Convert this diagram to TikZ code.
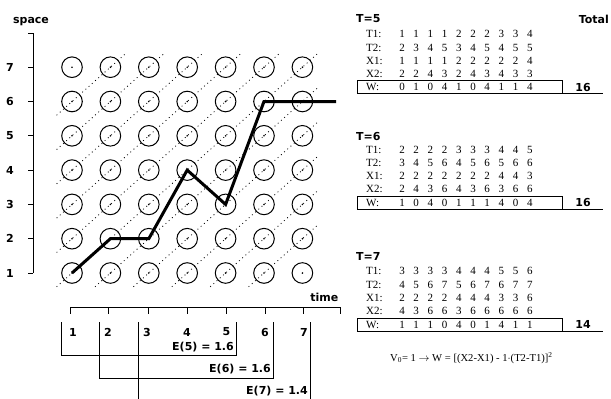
\documentclass[tikz,border=0pt]{standalone}
\usepackage{fontspec}
\setmainfont{Liberation Serif}
\newfontfamily\labfont{DejaVu Sans}
\tikzset{
  lbl/.style={font=\labfont\bfseries\fontsize{11}{11}\selectfont, inner sep=0pt},
  tbl/.style={font=\fontsize{11}{11}\selectfont, inner sep=0pt},
  cellc/.style={draw, circle, minimum size=20.6pt, inner sep=0pt, line width=1pt},
  diag/.style={line width=0.8pt, dash pattern=on 0.9pt off 3.4pt},
  thin/.style={line width=1pt},
}
\newcommand{\colx}[1]{72+38.4*(#1-1)}
\newcommand{\rowy}[1]{273-34.3*(#1-1)}
\begin{document}
\begin{tikzpicture}[x=1pt,y=-1pt]
\useasboundingbox (0,0) rectangle (611,399);
% dotted diagonals
\foreach \k in {-5,...,5}{
  \pgfmathsetmacro\ts{max(1,1-\k)-0.4}
  \pgfmathsetmacro\te{min(7,7-\k)+0.4}
  \draw[diag] ({\colx{\ts}},{\rowy{\ts+\k}}) -- ({\colx{\te}},{\rowy{\te+\k}});
}
% circles
\foreach \i in {1,...,7}{
  \foreach \j in {1,...,7}{
    \node[cellc] (c-\i-\j) at ({\colx{\i}},{\rowy{\j}}) {};
    \fill (c-\i-\j.center) circle (0.9pt);
  }
}
% y axis
\draw[thin] (33,33) -- (33,273);
\draw[thin] (28,33) -- (33,33);
\foreach \j in {1,...,7}{
  \draw[thin] (28,{\rowy{\j}}) -- (33,{\rowy{\j}});
  \node[lbl] (yl\j) at (10,{\rowy{\j}}) {\j};
}
\node[lbl] (spacelbl) at (31,22) {space};
% path
\coordinate (pend) at (336,{\rowy{6}});
\draw[line width=3pt, line join=miter] (c-1-1.center) -- (c-2-2.center) -- (c-3-2.center) -- (c-4-4.center) -- (c-5-3.center) -- (c-6-6.center) -- (c-7-6.center) -- (pend);
% time axis
\draw[thin] (70,307.5) -- (340.5,307.5);
\foreach \x in {70,108.5,148,187.5,226,265,303,340}{
  \draw[thin] (\x,307.5) -- (\x,313.5);
}
\node[lbl, anchor=east] (timelbl) at (338.5,297) {time};
\foreach \n/\x in {1/73,2/108,3/147,4/187,5/226.5,6/265,7/304}{
  \node[lbl] (tl\n) at (\x,332) {\n};
}
% brackets
\draw[thin] (61,322) -- (61,355) -- (236,355) -- (236,322);
\draw[thin] (99,322) -- (99,378) -- (273,378) -- (273,322);
\draw[thin] (138,322) -- (138,399.5);
\draw[thin] (310,322) -- (310,399.5);
\node[lbl, anchor=east] (e5) at (234,347) {E(5) = 1.6};
\node[lbl, anchor=east] (e6) at (271,369.5) {E(6) = 1.6};
\node[lbl, anchor=east] (e7) at (308,391) {E(7) = 1.4};
% tables
\newcommand{\tabrow}[3]{%
  \foreach \v [count=\ii] in {#3}{
    \node[tbl] (#1-\ii) at ({402+14.2*(\ii-1)},#2) {\v};
  }}
% T=5
\node[lbl, anchor=west] (h5) at (356,19) {T=5};
\node[lbl, anchor=east] (total) at (609,19) {Total};
\node[tbl, anchor=west] (a5l1) at (366,34) {T1:};
\node[tbl, anchor=west] (a5l2) at (366,47.5) {T2:};
\node[tbl, anchor=west] (a5l3) at (366,61) {X1:};
\node[tbl, anchor=west] (a5l4) at (366,74) {X2:};
\node[tbl, anchor=west] (a5l5) at (366,87) {W:};
\tabrow{a5r1}{34}{1,1,1,1,2,2,2,3,3,4}
\tabrow{a5r2}{47.5}{2,3,4,5,3,4,5,4,5,5}
\tabrow{a5r3}{61}{1,1,1,1,2,2,2,2,2,4}
\tabrow{a5r4}{74}{2,2,4,3,2,4,3,4,3,3}
\tabrow{a5r5}{87}{0,1,0,4,1,0,4,1,1,4}
\draw[thin] (357,80.5) rectangle (562,93.5);
\draw[thin] (562,93.5) -- (603,93.5);
\node[lbl] (s5) at (583,87) {16};
% T=6
\node[lbl, anchor=west] (h6) at (356,136) {T=6};
\node[tbl, anchor=west] (a6l1) at (366,150) {T1:};
\node[tbl, anchor=west] (a6l2) at (366,163) {T2:};
\node[tbl, anchor=west] (a6l3) at (366,176) {X1:};
\node[tbl, anchor=west] (a6l4) at (366,189) {X2:};
\node[tbl, anchor=west] (a6l5) at (366,202.5) {W:};
\tabrow{a6r1}{150}{2,2,2,2,3,3,3,4,4,5}
\tabrow{a6r2}{163}{3,4,5,6,4,5,6,5,6,6}
\tabrow{a6r3}{176}{2,2,2,2,2,2,2,4,4,3}
\tabrow{a6r4}{189}{2,4,3,6,4,3,6,3,6,6}
\tabrow{a6r5}{202.5}{1,0,4,0,1,1,1,4,0,4}
\draw[thin] (357,196) rectangle (562,209);
\draw[thin] (562,209) -- (603,209);
\node[lbl] (s6) at (583,202.5) {16};
% T=7
\node[lbl, anchor=west] (h7) at (356,256) {T=7};
\node[tbl, anchor=west] (a7l1) at (366,271) {T1:};
\node[tbl, anchor=west] (a7l2) at (366,284.5) {T2:};
\node[tbl, anchor=west] (a7l3) at (366,298) {X1:};
\node[tbl, anchor=west] (a7l4) at (366,311) {X2:};
\node[tbl, anchor=west] (a7l5) at (366,324.5) {W:};
\tabrow{a7r1}{271}{3,3,3,3,4,4,4,5,5,6}
\tabrow{a7r2}{284.5}{4,5,6,7,5,6,7,6,7,7}
\tabrow{a7r3}{298}{2,2,2,2,4,4,4,3,3,6}
\tabrow{a7r4}{311}{4,3,6,6,3,6,6,6,6,6}
\tabrow{a7r5}{324.5}{1,1,1,0,4,0,1,4,1,1}
\draw[thin] (357,318) rectangle (562,331);
\draw[thin] (562,331) -- (603,331);
\node[lbl] (s7) at (583,324.5) {14};
% formula
\node[tbl, anchor=west, font=\fontsize{10.6}{11}\selectfont] (formula) at (390,358) {V\textsubscript{0}= 1 $\rightarrow$ W = [(X2-X1) - 1$\cdot$(T2-T1)]\textsuperscript{2}};
\end{tikzpicture}
\end{document}
